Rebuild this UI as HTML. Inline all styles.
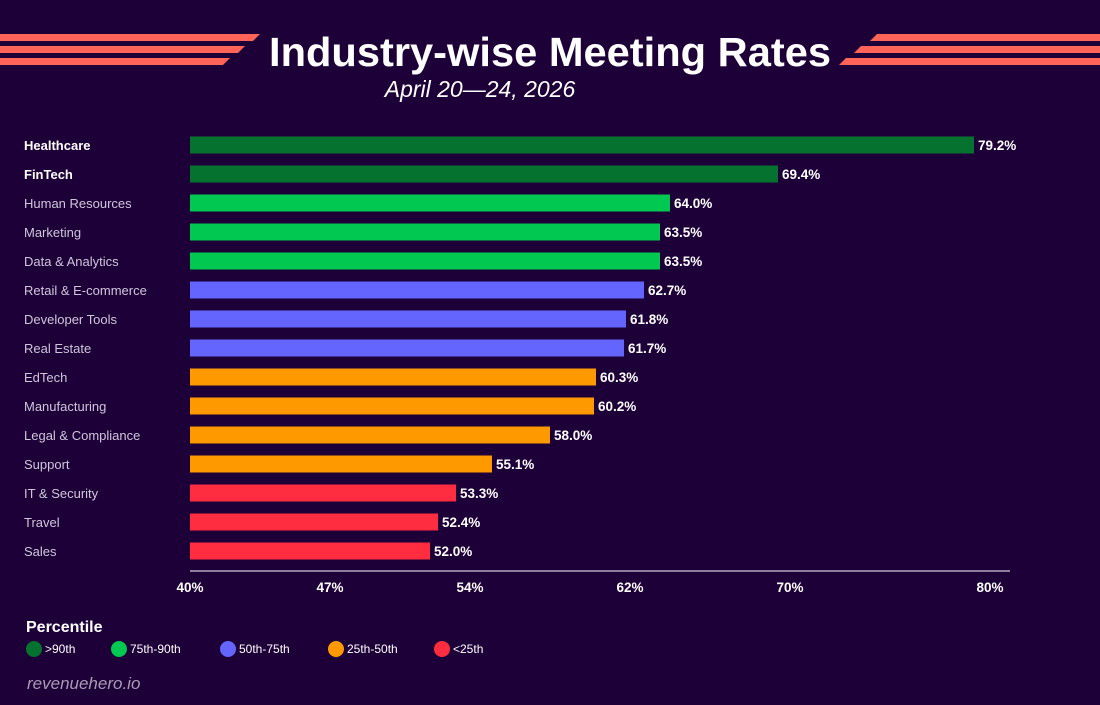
<!DOCTYPE html>
<html><head><meta charset="utf-8"><style>
body{margin:0;width:1100px;height:700px;background:#1e0038;font-family:"Liberation Sans",sans-serif;overflow:hidden}
svg text{font-family:"Liberation Sans",sans-serif}
</style></head><body>
<svg id="chart" width="1100" height="700" xmlns="http://www.w3.org/2000/svg">
<rect width="1100" height="700" fill="#1e0038"/>
<g fill="#ff6459">
<polygon points="0,34 260,34 253,41 0,41"/>
<polygon points="0,46 245,46 238,53 0,53"/>
<polygon points="0,58 230,58 223,65 0,65"/>
</g>
<g fill="#ff6459">
<polygon points="877,34 1100,34 1100,41 870,41"/>
<polygon points="861,46 1100,46 1100,53 854,53"/>
<polygon points="846,58 1100,58 1100,65 839,65"/>
</g>
<text x="550" y="66" text-anchor="middle" fill="#fff" font-size="41" font-weight="bold" textLength="562" lengthAdjust="spacingAndGlyphs">Industry-wise Meeting Rates</text>
<text x="480" y="97" text-anchor="middle" fill="#fff" font-size="23" font-style="italic">April 20—24, 2026</text>
<g id="bars"></g>
<line x1="190" y1="571" x2="1010" y2="571" stroke="#fff" stroke-width="1"/>
<g id="ticks"></g>
<text x="26" y="632" fill="#fff" font-size="16" font-weight="bold">Percentile</text>
<g id="legend"></g>
<text x="27" y="689" fill="#a89cb5" font-size="17" font-style="italic">revenuehero.io</text>
</svg>
<script>
const categories=["Healthcare","FinTech","Human Resources","Marketing","Data & Analytics","Retail & E-commerce","Developer Tools","Real Estate","EdTech","Manufacturing","Legal & Compliance","Support","IT & Security","Travel","Sales"];
const values=[79.2,69.4,64.0,63.5,63.5,62.7,61.8,61.7,60.3,60.2,58.0,55.1,53.3,52.4,52.0];
const tiers=[0,0,1,1,1,2,2,2,3,3,3,3,4,4,4];
const tickValues=[40,47,54,62,70,80];
const tierLabels=[">90th","75th-90th","50th-75th","25th-50th","<25th"];
const colors=["#06722f","#00c851","#6464ff","#ff9900","#ff2d3f"];
const NS="http://www.w3.org/2000/svg";
const x=v=>190+(v-40)*20;
const y=i=>145+i*29;
function mk(t,a,p){const e=document.createElementNS(NS,t);for(const k in a)e.setAttribute(k,a[k]);p.appendChild(e);return e;}
const bars=document.getElementById('bars');
categories.forEach((c,i)=>{
 const lab=mk('text',{x:24,y:y(i)+5,fill:i<2?'#fff':'#cfc6dc','font-size':13,'font-weight':i<2?'bold':'normal'},bars);
 lab.textContent=c;
 
 
 const r=mk('rect',{x:x(40),y:y(i)-8.5,width:x(values[i])-x(40),height:17,fill:colors[tiers[i]]},bars);
 
 
 const v=mk('text',{x:x(values[i])+4,y:y(i)+5,fill:'#fff','font-size':13.5,'font-weight':'bold'},bars);
 v.textContent=values[i].toFixed(1)+'%';
 
 
});
const ticks=document.getElementById('ticks');
tickValues.forEach(t=>{
 const e=mk('text',{x:x(t),y:592,fill:'#fff','font-size':13.5,'font-weight':'bold','text-anchor':'middle'},ticks);
 e.textContent=t+'%';
 
 
});
const legend=document.getElementById('legend');
const lx=[34,119,228,336,442];
tierLabels.forEach((l,i)=>{
 const c=mk('circle',{cx:lx[i],cy:649,r:8,fill:colors[i]},legend);
 
 
 const t=mk('text',{x:lx[i]+11,y:653,fill:'#fff','font-size':12},legend);
 t.textContent=l;
 
 
});
</script>
</body></html>
